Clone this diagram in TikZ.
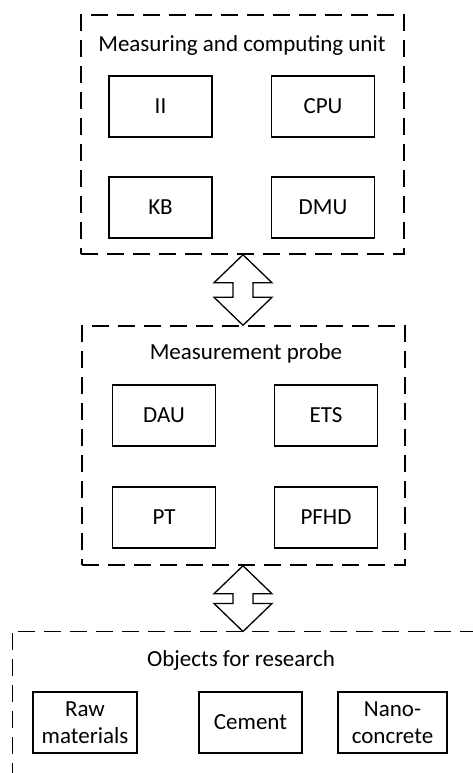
\documentclass[tikz,border=0pt]{standalone}
\usepackage{fontspec}
\setmainfont{Carlito}
\usetikzlibrary{calc}

\tikzset{
  groupline/.style={draw, line width=1.5pt, dash pattern=on 17pt off 9pt},
  group/.style={groupline, minimum width=323pt, minimum height=239pt, inner sep=0pt},
  unit/.style={draw, line width=1.3pt, minimum width=103pt, minimum height=61pt,
    inner sep=0pt, align=center, font=\fontsize{23}{27}\selectfont},
  grouptitle/.style={font=\fontsize{23}{27}\selectfont, inner sep=0pt},
  bigarrow/.style={draw, line width=1.3pt, line join=miter}
}

% hollow double-headed block arrow between two tips
\newcommand\blockarrow[2]{%
  \draw[bigarrow] (#1) -- ++(29,28) -- ++(-19,0) -- ($(#2)+(10,-28)$)
    -- ++(19,0) -- (#2) -- ++(-29,-28) -- ++(19,0) -- ($(#1)+(-10,28)$)
    -- ++(-19,0) -- cycle;}

\begin{document}
\begin{tikzpicture}[x=1pt, y=-1pt]
  \fill[white] (0,0) rectangle (473,773);
  \useasboundingbox (0,0) rectangle (473,773);

  % measuring and computing unit
  \node[group] (muc) at (242.5,134.5) {};
  \node[grouptitle] (muct) at (242,45) {Measuring and computing unit};
  \node[unit] (ii)  at (160.5,106.5) {II};
  \node[unit] (cpu) at (323,106.5) {CPU};
  \node[unit] (kb)  at (160.5,207.5) {KB};
  \node[unit] (dmu) at (323,207.5) {DMU};

  % measurement probe
  \node[group] (probe) at (243.5,445.5) {};
  \node[grouptitle] (probet) at (246,353) {Measurement probe};
  \node[unit] (dau)  at (164,415.5) {DAU};
  \node[unit] (ets)  at (326,415.5) {ETS};
  \node[unit] (pt)   at (164,517.5) {PT};
  \node[unit] (pfhd) at (326,517.5) {PFHD};

  % objects for research: open frame running off the page
  \coordinate (objcorner) at (12.5,631.5);
  \draw[groupline] ($(objcorner)+(5.5,0)$) -- (473,631.5);
  \draw[groupline] ($(objcorner)+(0,1.5)$) -- (12.5,773);
  \node[grouptitle] (objt) at (241,660) {Objects for research};
  \node[unit, minimum width=104pt] (raw) at (85,722.5) {Raw\\materials};
  \node[unit] (cem) at (250.5,722.5) {Cement};
  \node[unit, minimum width=109pt] (nano) at (392.5,722.5) {Nano-\\concrete};

  % links between the groups
  \coordinate (mucb) at ($(muc.south)+(0.5,0)$);
  \coordinate (probetop) at (mucb |- probe.north);
  \coordinate (probebot) at (mucb |- probe.south);
  \coordinate (objtop) at (mucb |- objcorner);
  \blockarrow{mucb}{probetop}
  \blockarrow{probebot}{objtop}
\end{tikzpicture}
\end{document}
